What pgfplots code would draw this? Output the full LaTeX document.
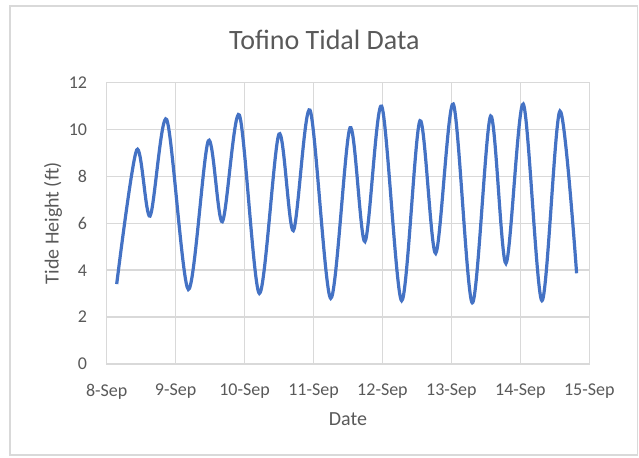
\documentclass[border=0pt]{standalone}
\usepackage{pgfplots}
\pgfplotsset{compat=1.18}
\usepackage{fontspec}
\setmainfont{Carlito}
\definecolor{exblue}{HTML}{4472C4}
\definecolor{exgrid}{HTML}{D9D9D9}
\definecolor{extext}{HTML}{595959}
\begin{document}
\begin{tikzpicture}
\useasboundingbox (0pt,0pt) rectangle (319.5pt,228.5pt);
\draw[exgrid, line width=0.6pt] (5pt,1pt) rectangle (318.75pt,225.5pt);
\node[anchor=base, font=\fontsize{14}{16}\selectfont, text=extext] at (162.2pt,203.85pt) {Tofino Tidal Data};
\node[anchor=base, font=\fontsize{10}{12}\selectfont, text=extext] at (174pt,16pt) {Date};
\node[rotate=90, font=\fontsize{10}{12}\selectfont, text=extext] at (26.5pt,116.8pt) {Tide Height (ft)};
\begin{axis}[
  at={(53.35pt,46.5pt)}, anchor=south west,
  scale only axis, width=241.3pt, height=140.65pt,
  xmin=0, xmax=7, ymin=0, ymax=12,
  xtick={0,1,2,3,4,5,6,7},
  xticklabels={8-Sep,9-Sep,10-Sep,11-Sep,12-Sep,13-Sep,14-Sep,15-Sep},
  ytick={0,2,4,6,8,10,12},
  grid=major,
  grid style={exgrid, line width=0.75pt},
  axis line style={exgrid, line width=0.75pt},
  major tick length=0pt,
  tick style={draw=none},
  /pgf/number format/assume math mode=true,
  ticklabel style={font=\fontsize{9}{11}\selectfont, text=extext},
  xticklabel style={yshift=-6.5pt},
  yticklabel style={xshift=-6.3pt},
]
\addplot[exblue, line width=1.6pt, smooth, no markers] coordinates {
(0.145,3.41) (0.435,9.13) (0.628,6.31) (0.870,10.43) (1.184,3.18)
(1.474,9.52) (1.677,6.07) (1.924,10.62) (2.214,3.01) (2.499,9.81)
(2.707,5.69) (2.949,10.83) (3.249,2.80) (3.530,10.08) (3.746,5.22)
(3.988,11.00) (4.278,2.70) (4.544,10.38) (4.772,4.72) (5.027,11.09)
(5.303,2.61) (5.569,10.58) (5.791,4.29) (6.042,11.09) (6.313,2.70)
(6.574,10.79) (6.816,3.87)
};
\end{axis}
\end{tikzpicture}
\end{document}
